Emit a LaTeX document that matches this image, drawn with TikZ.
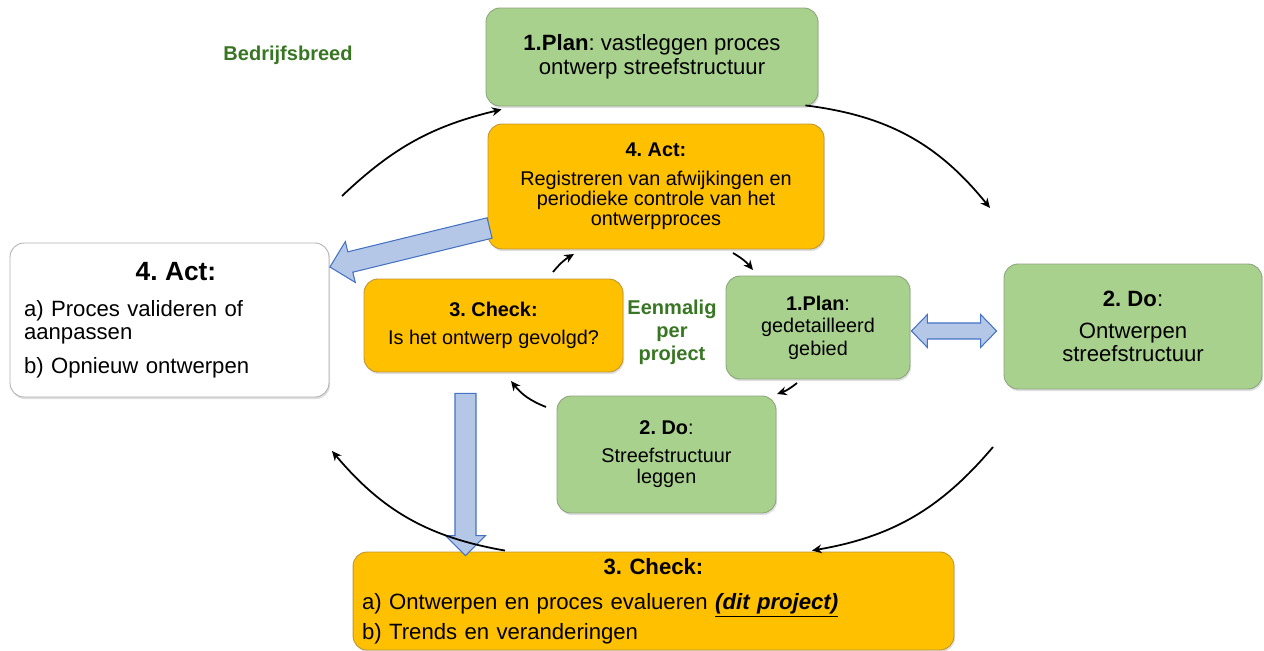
\documentclass[tikz,border=0pt]{standalone}
\usepackage{fontspec}
\setmainfont{Liberation Sans}
\usetikzlibrary{arrows.meta, calc, shadows}
\definecolor{boxgreen}{RGB}{169,209,142}
\definecolor{boxorange}{RGB}{255,192,0}
\definecolor{linegreen}{RGB}{140,165,125}
\definecolor{lineorange}{RGB}{190,150,50}
\definecolor{arrowblue}{RGB}{180,199,231}
\definecolor{edgeblue}{RGB}{68,114,196}
\definecolor{textgreen}{RGB}{56,118,35}
\frenchspacing

\tikzset{
  pdcabox/.style={rectangle, rounded corners=0.28cm, inner sep=0pt, line width=0.5pt, align=center,
    drop shadow={shadow xshift=0.6pt, shadow yshift=-1.2pt, opacity=0.25}},
  greenbox/.style={pdcabox, fill=boxgreen, draw=linegreen},
  orangebox/.style={pdcabox, fill=boxorange, draw=lineorange},
  whitebox/.style={pdcabox, fill=white, draw=gray!60},
  loopline/.style={-{Stealth[length=5.5pt,width=5pt]}, line width=1pt},
  fat/.style={fill=arrowblue, draw=edgeblue, line width=0.6pt, line join=miter},
  outerfont/.style={font=\fontsize{12.6}{13.6}\selectfont},
  innerfont/.style={font=\fontsize{11.3}{12.8}\selectfont},
  scopelabel/.style={text=textgreen, align=center, font=\bfseries\fontsize{11.4}{13}\selectfont}
}

% block arrow: tail, tip, shaft half width, head half width, head length
\newcommand{\fatarrow}[5]{%
  \coordinate (fh) at ($(#2)!#5!(#1)$);
  \draw[fat] ($(#1)!#3!90:(#2)$) -- ($(fh)!#3!90:(#2)$) -- ($(fh)!#4!90:(#2)$) -- (#2)
    -- ($(fh)!#4!-90:(#2)$) -- ($(fh)!#3!-90:(#2)$) -- ($(#1)!#3!-90:(#2)$) -- cycle;
}

\begin{document}
\begin{tikzpicture}[x=0.02cm, y=-0.02cm]
  \useasboundingbox (0,0) rectangle (1264,651);

  % company-wide cycle
  \node[greenbox, minimum width=6.64cm, minimum height=1.96cm, outerfont] (planTop) at (652,57)
    {\textbf{1.Plan}: vastleggen proces\\ontwerp streefstructuur};
  \node[orangebox, minimum width=6.72cm, minimum height=2.5cm, font=\fontsize{11.3}{11.4}\selectfont] (actTop) at (656,186.5)
    {\textbf{4. Act:}\\[5pt]Registreren van afwijkingen en\\periodieke controle van het\\ontwerpproces};
  \node[whitebox, minimum width=6.38cm, minimum height=3.08cm, text width=5.82cm, align=left, font=\fontsize{12.6}{13}\selectfont] (actLeft) at (169.5,320)
    {\noindent\hbox to \hsize{\hss\hskip0.26cm\fontsize{15}{16}\selectfont\bfseries 4. Act:\hss}\\[7.4pt]a) Proces valideren of\\aanpassen\\[6.3pt]b) Opnieuw ontwerpen};
  \node[greenbox, minimum width=5.16cm, minimum height=2.5cm, font=\fontsize{12.6}{13}\selectfont] (doRight) at (1133,326.5)
    {\textbf{2. Do}:\\[5pt]Ontwerpen\\streefstructuur};
  \node[orangebox, minimum width=12.02cm, minimum height=1.96cm, text width=11.66cm, align=left, font=\fontsize{12.6}{14.5}\selectfont] (checkBot) at (653.5,601)
    {\noindent\hbox to \hsize{\hss\bfseries 3. Check:\hss}\\[5.5pt]a) Ontwerpen en proces evalueren \textbf{\textit{\underline{(dit project)}}}\\[2.5pt]b) Trends en veranderingen};

  % once-per-project cycle
  \node[orangebox, minimum width=5.18cm, minimum height=1.86cm, innerfont] (checkMid) at (493.5,325.5)
    {\textbf{3. Check:}\\[3.2pt]Is het ontwerp gevolgd?};
  \node[greenbox, minimum width=3.68cm, minimum height=2.06cm, innerfont] (planMid) at (818,327.5)
    {\textbf{1.Plan}:\\gedetailleerd\\gebied};
  \node[greenbox, minimum width=4.38cm, minimum height=2.34cm, font=\fontsize{11.3}{12}\selectfont] (doMid) at (666.5,454.5)
    {\textbf{2. Do}:\\[4pt]Streefstructuur\\leggen};

  \node[scopelabel] (wide) at (288,55) {Bedrijfsbreed};
  \node[scopelabel] (once) at (672,332) {Eenmalig\\per\\project};

  % block arrows
  \coordinate (dtail) at ($(actTop.west)+(2,41.5)$);
  \coordinate (dtip) at ($(actLeft.east)+(0.5,-53)$);
  \fatarrow{dtail}{dtip}{0.21cm}{0.42cm}{0.42cm}
  \coordinate (vtail) at ($(checkMid.south)+(-28,21)$);
  \coordinate (vtip) at ($(vtail |- checkBot.north)+(0,4)$);
  \fatarrow{vtail}{vtip}{0.21cm}{0.40cm}{0.40cm}
  \coordinate (dblA) at ($(planMid.east)+(1,3.5)$);
  \coordinate (dblB) at ($(doRight.west)+(-7,4.5)$);
  \coordinate (ha) at ($(dblA)!0.32cm!(dblB)$);
  \coordinate (hb) at ($(dblB)!0.32cm!(dblA)$);
  \draw[fat] (dblA) -- ($(ha)!0.33cm!90:(dblB)$) -- ($(ha)!0.16cm!90:(dblB)$) -- ($(hb)!0.16cm!-90:(dblA)$)
    -- ($(hb)!0.33cm!-90:(dblA)$) -- (dblB) -- ($(hb)!0.33cm!90:(dblA)$) -- ($(hb)!0.16cm!90:(dblA)$)
    -- ($(ha)!0.16cm!-90:(dblB)$) -- ($(ha)!0.33cm!-90:(dblB)$) -- cycle;

  % outer loop
  \coordinate (o1s) at (342,196);
  \coordinate (o1e) at ($(planTop.south west)+(16,3)$);
  \coordinate (o2s) at ($(planTop.south east)+(-13,-1)$);
  \coordinate (o2e) at (990,208);
  \coordinate (o3s) at (993,447);
  \coordinate (o3e) at ($(checkBot.north)+(158.5,-1)$);
  \coordinate (o4s) at ($(checkBot.north)+(-148.5,-1)$);
  \coordinate (o4e) at (332,451);
  \draw[loopline] (o1s) to[bend left=15] (o1e);
  \draw[loopline] (o2s) to[bend left=22] (o2e);
  \draw[loopline] (o3s) to[bend left=20] (o3e);
  \draw[loopline] (o4s) to[bend left=20] (o4e);

  % inner loop
  \coordinate (i1s) at (553,272);
  \coordinate (i1e) at (574,254);
  \coordinate (i2s) at (733,253);
  \coordinate (i2e) at (753,270);
  \coordinate (i3s) at (797,383);
  \coordinate (i3e) at (777,394);
  \coordinate (i4s) at (546,407);
  \coordinate (i4e) at (511,381);
  \draw[loopline] (i1s) to[bend left=10] (i1e);
  \draw[loopline] (i2s) to[bend left=10] (i2e);
  \draw[loopline] (i3s) to[bend left=10] (i3e);
  \draw[loopline] (i4s) to[bend left=15] (i4e);
\end{tikzpicture}
\end{document}
